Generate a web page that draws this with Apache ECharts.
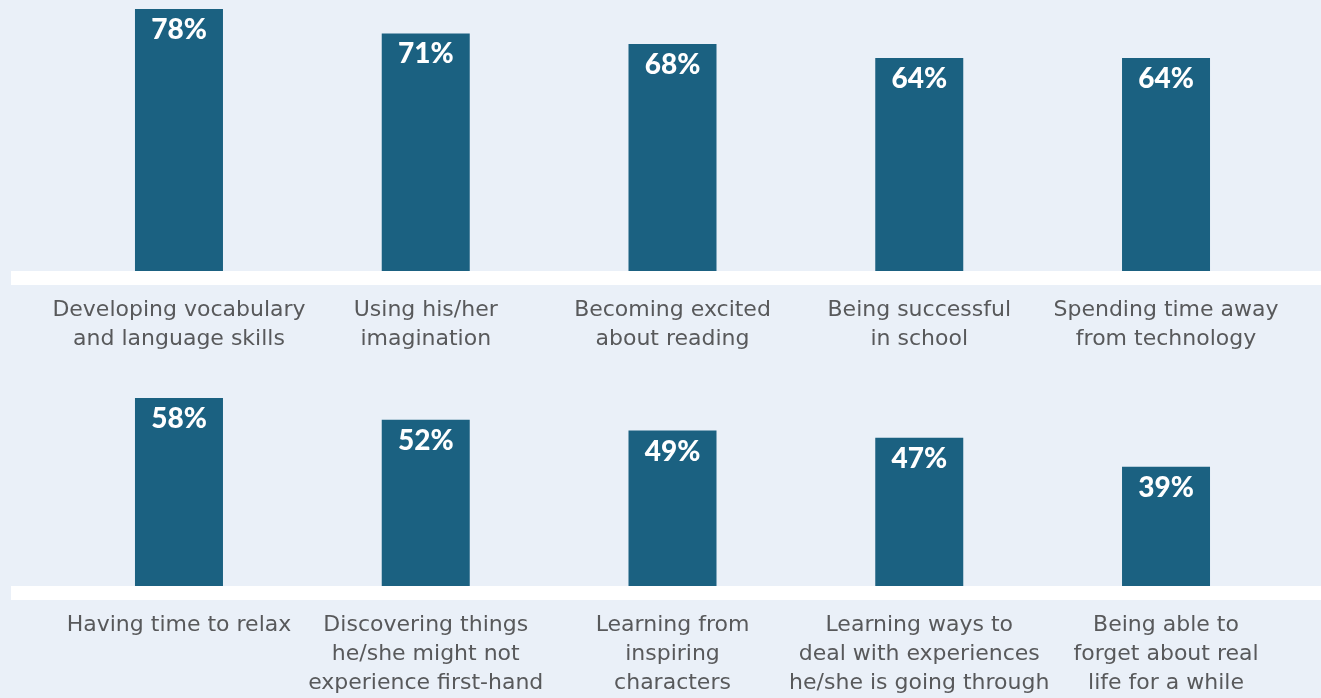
<!DOCTYPE html>
<html>
<head>
<meta charset="utf-8">
<script src="https://cdn.jsdelivr.net/npm/echarts@6/dist/echarts.min.js"></script>
<style>
    html, body { margin: 0; padding: 0; background: #eaf0f8; }
    #chart { width: 1321px; height: 698px; }
</style>
</head>
<body>
<div id="chart"></div>
<script>
const topCategories = [
    'Developing vocabulary\nand language skills',
    'Using his/her\nimagination',
    'Becoming excited\nabout reading',
    'Being successful\nin school',
    'Spending time away\nfrom technology'
];
const topValues = [78, 71, 68, 64, 64];

const bottomCategories = [
    'Having time to relax',
    'Discovering things\nhe/she might not\nexperience first-hand',
    'Learning from\ninspiring\ncharacters',
    'Learning ways to\ndeal with experiences\nhe/she is going through',
    'Being able to\nforget about real\nlife for a while'
];
const bottomValues = [58, 52, 49, 47, 39];

const barColor = '#1b6181';
const textColor = '#58595b';

const chart = echarts.init(document.getElementById('chart'));

function xAxisFor(idx, data) {
    return {
        type: 'category',
        gridIndex: idx,
        data: data,
        axisLine: { show: false },
        axisTick: { show: false },
        axisLabel: {
            interval: 0,
            color: textColor,
            fontFamily: 'DejaVu Sans',
            fontSize: 22,
            lineHeight: 29,
            margin: 25
        }
    };
}

function yAxisFor(idx, min, max) {
    return {
        type: 'value',
        gridIndex: idx,
        min: min,
        max: max,
        show: false,
        splitLine: { show: false }
    };
}

function barSeries(idx, data) {
    return {
        type: 'bar',
        xAxisIndex: idx,
        yAxisIndex: idx,
        data: data,
        barWidth: 88,
        itemStyle: { color: barColor },
        label: {
            show: true,
            position: 'insideTop',
            distance: 7,
            formatter: '{c}%',
            color: '#fff',
            fontFamily: 'Lato',
            fontWeight: 900,
            fontSize: 28
        },
        silent: true
    };
}

chart.setOption({
    backgroundColor: '#eaf0f8',
    animation: false,
    grid: [
        { left: 55.6, right: 31.6, top: 9, bottom: 427 },
        { left: 55.6, right: 31.6, top: 398, bottom: 110 }
    ],
    xAxis: [xAxisFor(0, topCategories), xAxisFor(1, bottomCategories)],
    yAxis: [yAxisFor(0, 3, 78), yAxisFor(1, 6, 58)],
    series: [barSeries(0, topValues), barSeries(1, bottomValues)]
});

// white baseline bands under each row
const y0 = chart.convertToPixel({ gridIndex: 0 }, [0, 3])[1];
const y1 = chart.convertToPixel({ gridIndex: 1 }, [0, 6])[1];
chart.setOption({
    graphic: [
        { type: 'rect', shape: { x: 11, y: y0, width: 1310, height: 14 }, style: { fill: '#fff' }, silent: true },
        { type: 'rect', shape: { x: 11, y: y1, width: 1310, height: 14 }, style: { fill: '#fff' }, silent: true }
    ]
});
</script>
</body>
</html>
